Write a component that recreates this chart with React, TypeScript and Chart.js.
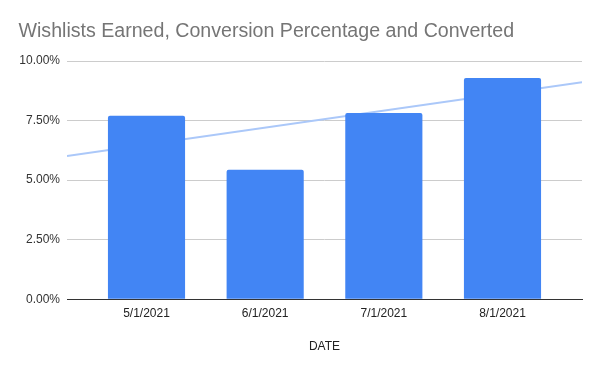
import React, { useEffect, useRef } from "react";
import { Chart, registerables } from "chart.js";

Chart.register(...registerables);

const TITLE = "Wishlists Earned, Conversion Percentage and Converted";
const X_TITLE = "DATE";
const categories = ["5/1/2021", "6/1/2021", "7/1/2021", "8/1/2021"];
const conversion = [7.7, 5.44, 7.82, 9.29];
const yTicks = [0, 2.5, 5, 7.5, 10];
const xMin = -0.67;
const xMax = 3.67;

function trendline(values: number[]) {
  const n = values.length;
  const mx = (n - 1) / 2;
  const my = values.reduce((a, b) => a + b, 0) / n;
  let num = 0;
  let den = 0;
  values.forEach((v, i) => {
    num += (i - mx) * (v - my);
    den += (i - mx) * (i - mx);
  });
  const slope = num / den;
  const f = (x: number) => my + slope * (x - mx);
  return [
    { x: xMin, y: f(xMin) },
    { x: xMax, y: f(xMax) },
  ];
}

export default function App() {
  const ref = useRef<HTMLCanvasElement>(null);
  useEffect(() => {
    document.body.style.margin = "0";
    const ctx = ref.current!;
    const font = "'Liberation Sans', Arial, sans-serif";
    const chart = new Chart(ctx, {
      type: "bar",
      data: {
        datasets: [
          {
            type: "bar",
            label: "Conversion",
            data: conversion.map((v, i) => ({ x: i, y: v })),
            backgroundColor: "#4285f4",
            barPercentage: 0.65,
            categoryPercentage: 1,
            borderRadius: 2,
            order: 1,
          } as any,
          {
            type: "line",
            label: "Trend",
            data: trendline(conversion),
            borderColor: "#abc8f9",
            borderWidth: 2,
            pointRadius: 0,
            order: 2,
          } as any,
        ],
      },
      options: {
        responsive: false,
        animation: false,
        devicePixelRatio: 1,
        layout: { padding: { left: 18.5, right: 18, top: 0, bottom: 0 } },
        plugins: {
          legend: { display: false },
          tooltip: { enabled: false },
          title: {
            display: true,
            text: TITLE,
            align: "start",
            color: "#757575",
            font: { family: font, size: 19.6, weight: "normal" },
            padding: { top: 20, bottom: 17.5 },
          },
        },
        scales: {
          x: {
            type: "linear",
            min: xMin,
            max: xMax,
            offset: false,
            afterBuildTicks: (scale: any) => {
              scale.ticks = categories.map((_, i) => ({ value: i }));
            },
            ticks: {
              padding: 7,
              color: "#222",
              font: { family: font, size: 12 },
              callback: (v: any) => categories[v] ?? "",
              maxRotation: 0,
              autoSkip: false,
            },
            grid: { display: false, drawTicks: false },
            border: { display: true, color: "#333", width: 1 },
            title: {
              display: true,
              text: X_TITLE,
              color: "#222",
              font: { family: font, size: 12 },
              padding: { top: 12, bottom: 17 },
            },
          },
          y: {
            min: 0,
            max: 10,
            afterBuildTicks: (scale: any) => {
              scale.ticks = yTicks.map((v) => ({ value: v }));
            },
            afterFit: (scale: any) => {
              scale.width = 48.5;
            },
            ticks: {
              padding: 7,
              color: "#333",
              font: { family: font, size: 12 },
              callback: (v: any) => Number(v).toFixed(2) + "%",
            },
            grid: { color: "#cccccc", drawTicks: false },
            border: { display: false },
          },
        },
      } as any,
    });
    return () => chart.destroy();
  }, []);
  return (
    <div style={{ position: "absolute", left: 0, top: 0, width: 600, height: 371 }}>
      <canvas ref={ref} width={600} height={371} />
    </div>
  );
}
